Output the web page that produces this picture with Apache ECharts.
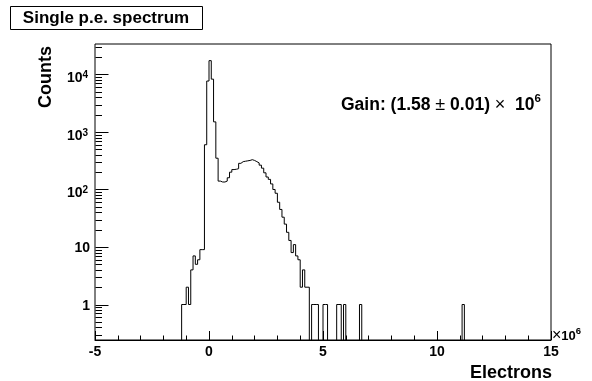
<!DOCTYPE html>
<html><head><meta charset="utf-8">
<script src="https://cdn.jsdelivr.net/npm/echarts@6/dist/echarts.min.js"></script>
<style>html,body{margin:0;padding:0;background:#fff}#c{width:592px;height:381px}</style>
</head><body><div id="c"></div>
<script>
const FONT = '"Liberation Sans", Arial, Helvetica, sans-serif';

// ---- data (x in units of 10^6 electrons) ----
const binStart = -1.3;
const binWidth = 0.1;
const counts = [
  0, 1, 1, 2, 1, 4, 7, 5, 6, 9, 9,            // -1.3 .. -0.3
  600, 7700, 17400, 8300, 1500, 350, 140,     // -0.2 .. 0.4
  135, 135, 140, 160, 200, 222, 225, 230,     // 0.5 .. 1.2
  285, 305, 310, 315, 320, 330, 320, 305,     // 1.3 .. 2.0
  290, 265, 235, 195, 165, 150, 125, 100,     // 2.1 .. 2.8
  86, 60, 45, 33, 25, 18, 13, 8, 11, 7, 6,    // 2.9 .. 3.9
  2, 4, 2, 2, 0, 1, 1, 1, 0, 0,               // 4.0 .. 4.9
  1, 1, 0, 0, 0, 0, 1, 1, 0, 1,               // 5.0 .. 5.9
  0, 0, 0, 0, 0, 0, 1, 0, 0, 0,               // 6.0 .. 6.9
  0, 0, 0, 0, 0, 0, 0, 0, 0, 0,               // 7.0 .. 7.9
  0, 0, 0, 0, 0, 0, 0, 0, 0, 0,               // 8.0 .. 8.9
  0, 0, 0, 0, 0, 0, 0, 0, 0, 0,               // 9.0 .. 9.9
  0, 0, 0, 0, 0, 0, 0, 0, 0, 0,               // 10.0 .. 10.9
  0, 1, 0                                     // 11.0 .. 11.2
];
const xRange = [-5, 15];
const xTickLabels = ['-5', '0', '5', '10', '15'];
const yRange = [0.2414, 33900];
const yMajorTicks = [1, 10, 100, 1000, 10000];
const yMajorLabels = [['1', ''], ['10', ''], ['10', '2'], ['10', '3'], ['10', '4']];
const titleText = 'Single p.e. spectrum';
const yTitle = 'Counts';
const xTitle = 'Electrons';
const gainPieces = [['Gain: (1.58', 'b'], [' ', 'b'], ['±', 'n'], [' ', 'b'], ['0.01)', 'b'], [' ', 'b'], ['×', 'n'], ['  ', 'b'], ['10', 'b'], ['6', 's']];
const scalePieces = [['×', 'n'], ['10', 'b'], ['6', 's']];

// ---- build series data ----
const FLOOR = 1e-3; // empty bins drop below the axis (clipped)
const histPts = counts.map((c, i) => [+(binStart + i * binWidth).toFixed(2), c > 0 ? c : FLOOR]);
histPts.push([+(binStart + counts.length * binWidth).toFixed(2), FLOOR]);

const yMinorTicks = [];
for (let d = -1; d <= 4; d++) for (let m = 2; m <= 9; m++) {
  const v = m * Math.pow(10, d);
  if (v > yRange[0] && v < yRange[1]) yMinorTicks.push(v);
}
const yTickData = [];
yMajorTicks.forEach((v, i) => yTickData.push([xRange[0], v, 1, i]));
yMinorTicks.forEach(v => yTickData.push([xRange[0], v, 0, -1]));

function txt(s, x, y, align, size, weight) {
  return { type: 'text', style: { text: s, x: x, y: y, align: align, textAlign: align,
    verticalAlign: 'middle', textVerticalAlign: 'middle',
    font: (weight || 'bold') + ' ' + size + 'px ' + FONT, fill: '#000' } };
}

function renderYTick(params, api) {
  const v = api.value(1), major = api.value(2) === 1, li = api.value(3);
  const p = api.coord([xRange[0], v]);
  const y = Math.round(p[1]) + 0.5, x0 = Math.round(p[0]) + 0.5;
  const ch = [{ type: 'line', shape: { x1: x0, y1: y, x2: x0 + (major ? 13 : 6.5), y2: y },
    style: { stroke: '#000', lineWidth: 1 } }];
  if (major) {
    const base = yMajorLabels[li][0], sup = yMajorLabels[li][1];
    if (!sup) ch.push(txt(base, x0 - 5.5, y + 1, 'right', 14));
    else {
      ch.push(txt(base, x0 - 13, y + 4, 'right', 14));
      ch.push(txt(sup, x0 - 13, y + 0.5, 'left', 10));
    }
  }
  return { type: 'group', children: ch };
}

// sequential text layout with measured widths
const mctx = document.createElement('canvas').getContext('2d');
function layoutPieces(pieces, x, y, fonts, supDy) {
  const out = [];
  pieces.forEach(([s, k]) => {
    const f = fonts[k];
    mctx.font = f;
    out.push({ type: 'text', x: x, y: k === 's' ? y - supDy : y, z: 12,
      style: { text: s, font: f, fill: '#000', align: 'left', textAlign: 'left', verticalAlign: 'middle', textVerticalAlign: 'middle' } });
    x += mctx.measureText(s).width;
  });
  return out;
}
const gainEls = layoutPieces(gainPieces, 341, 105.5,
  { b: 'bold 17.5px ' + FONT, n: '18px ' + FONT, s: 'bold 11.5px ' + FONT }, 7);
const scaleEls = layoutPieces(scalePieces, 552, 336,
  { b: 'bold 13px ' + FONT, n: '16px ' + FONT, s: 'bold 9.5px ' + FONT }, 5);

const chart = echarts.init(document.getElementById('c'), null, { renderer: 'canvas' });
chart.setOption({
  animation: false,
  backgroundColor: '#fff',
  grid: { left: 95, right: 41, top: 44, bottom: 41, show: true, borderColor: '#000', borderWidth: 1, backgroundColor: 'transparent' },
  xAxis: {
    type: 'value', min: xRange[0], max: xRange[1], interval: 5,
    axisLine: { show: true, onZero: false, lineStyle: { color: '#000', width: 1 } },
    axisTick: { show: true, inside: true, length: 9, lineStyle: { color: '#000', width: 1 } },
    minorTick: { show: true, splitNumber: 5, length: 4.5, lineStyle: { color: '#000', width: 1 } },
    splitLine: { show: false }, minorSplitLine: { show: false },
    axisLabel: { color: '#000', fontWeight: 'bold', fontSize: 14, fontFamily: FONT, margin: 5,
      formatter: v => xTickLabels[Math.round((v - xRange[0]) / 5)] }
  },
  yAxis: {
    type: 'log', logBase: 10, min: yRange[0], max: yRange[1],
    axisLine: { show: false, onZero: false },
    axisTick: { show: false }, axisLabel: { show: false }, splitLine: { show: false }, minorTick: { show: false }
  },
  series: [
    { type: 'line', data: histPts, step: 'end', showSymbol: false, symbol: 'none', clip: true,
      lineStyle: { color: '#000', width: 1 }, silent: true },
    { type: 'custom', coordinateSystem: 'cartesian2d', data: yTickData, encode: { x: 0, y: 1 },
      renderItem: renderYTick, clip: false, silent: true, z: 5 }
  ],
  graphic: [
    { type: 'rect', shape: { x: 10.5, y: 6.5, width: 192, height: 23 }, style: { fill: '#fff', stroke: '#000', lineWidth: 1 }, z: 10 },
    { type: 'text', x: 106, y: 18.5, z: 11, style: { text: titleText, font: 'bold 17px ' + FONT, fill: '#000', align: 'center', textAlign: 'center', verticalAlign: 'middle', textVerticalAlign: 'middle' } },
    { type: 'text', x: 46, y: 77, rotation: Math.PI / 2, style: { text: yTitle, font: 'bold 18px ' + FONT, fill: '#000', align: 'center', textAlign: 'center', verticalAlign: 'middle', textVerticalAlign: 'middle' } },
    { type: 'text', x: 552, y: 373, style: { text: xTitle, font: 'bold 18px ' + FONT, fill: '#000', align: 'right', textAlign: 'right', verticalAlign: 'middle', textVerticalAlign: 'middle' } }
  ].concat(gainEls, scaleEls)
});
</script></body></html>
